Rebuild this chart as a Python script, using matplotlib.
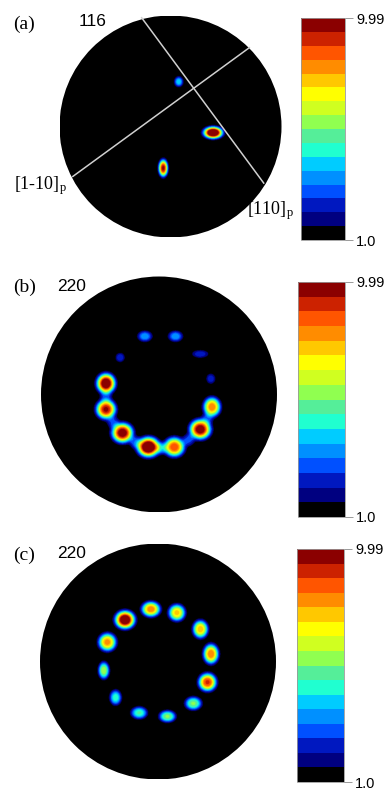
import numpy as np
import matplotlib
matplotlib.use('Agg')
import matplotlib.pyplot as plt
from matplotlib.colors import ListedColormap, BoundaryNorm
from matplotlib.patches import Circle
import matplotlib.cm as mcm

# 16 level colours, bottom (1.0) to top (9.99)
band_colors = ['#000000', '#000080', '#0018c0', '#0050ff', '#0090ff', '#00ccff',
               '#20ffd0', '#55ee99', '#90ff50', '#d0ff20', '#ffff00', '#ffc800',
               '#ff8c00', '#ff5500', '#cc2200', '#8b0000']
vmin, vmax = 1.0, 9.99
tick_labels = ['1.0', '9.99']

# (a) 116 pole figure: spot centres (unit disk), peak intensity, spread
a_x = [0.07, 0.38, -0.07]
a_y = [0.40, -0.06, -0.38]
a_peak = [4.2, 12.0, 9.6]
a_sx = [0.026, 0.055, 0.027]
a_sy = [0.030, 0.034, 0.049]
# projected [110]p and [1-10]p traces
line1_x = [-0.26, 0.84]
line1_y = [0.98, -0.51]
line2_x = [0.71, -0.88]
line2_y = [0.71, -0.45]

# (b) 220 pole figure
b_x = [-0.12, 0.14, -0.33, 0.35, 0.44, -0.45, -0.45, 0.45, -0.31, 0.35, -0.09, 0.13,
       -0.45, -0.39, -0.20, 0.02, 0.25, 0.41]
b_y = [0.49, 0.49, 0.31, 0.34, 0.13, 0.09, -0.13, -0.11, -0.33, -0.30, -0.45, -0.45,
       -0.02, -0.24, -0.41, -0.46, -0.39, -0.21]
b_peak = [3.7, 3.7, 2.6, 2.5, 2.5, 10.8, 9.6, 8.2, 10.2, 10.2, 11.5, 8.8,
          2.4, 2.6, 2.8, 3.0, 2.8, 2.4]
b_sx = [0.040, 0.040, 0.027, 0.048, 0.027, 0.050, 0.053, 0.046, 0.057, 0.057, 0.060, 0.055,
        0.034, 0.034, 0.034, 0.034, 0.034, 0.034]
b_sy = [0.030, 0.030, 0.027, 0.023, 0.030, 0.053, 0.052, 0.052, 0.053, 0.053, 0.053, 0.052,
        0.034, 0.034, 0.034, 0.034, 0.034, 0.034]

# (c) 220 pole figure
c_x = [-0.06, 0.16, -0.28, 0.36, -0.43, 0.45, -0.46, 0.42, -0.36, 0.30, -0.16, 0.08]
c_y = [0.44, 0.41, 0.35, 0.27, 0.16, 0.06, -0.08, -0.18, -0.31, -0.36, -0.44, -0.47]
c_peak = [8.2, 7.4, 11.0, 7.6, 8.0, 8.3, 6.0, 9.0, 4.8, 5.6, 5.0, 5.6]
c_sx = [0.050, 0.045, 0.053, 0.041, 0.048, 0.041, 0.030, 0.048, 0.032, 0.045, 0.044, 0.045]
c_sy = [0.041, 0.045, 0.048, 0.048, 0.048, 0.053, 0.046, 0.048, 0.041, 0.036, 0.033, 0.032]

cmap = ListedColormap(band_colors)
levels = np.linspace(vmin, vmax, len(band_colors) + 1)
norm = BoundaryNorm(levels, cmap.N)

W, H = 392, 789
fig = plt.figure(figsize=(W / 100, H / 100), dpi=100)
plt.rcParams['mathtext.default'] = 'regular'


def box(x0, y0, w, h):
    return [x0 / W, 1 - (y0 + h) / H, w / W, h / H]


def intensity(xs, ys, peaks, sxs, sys_):
    # flat-topped (super-gaussian) spots, like the smoothed ODF recalculation
    g = np.linspace(-1, 1, 600)
    X, Y = np.meshgrid(g, g)
    Z = np.ones_like(X)
    for x, y, p, sx, sy in zip(xs, ys, peaks, sxs, sys_):
        q = (X - x) ** 2 / (2 * sx ** 2) + (Y - y) ** 2 / (2 * sy ** 2)
        Z += (p - 1) * np.exp(-q ** 1.5)
    return np.clip(Z, vmin, vmax - 1e-3)


def pole_figure(rect, Z):
    ax = fig.add_axes(rect)
    im = ax.imshow(Z, origin='lower', extent=[-1, 1, -1, 1], cmap=cmap, norm=norm,
                   interpolation='bilinear')
    disk = Circle((0, 0), 1, transform=ax.transData)
    im.set_clip_path(disk)
    ax.set_xlim(-1, 1)
    ax.set_ylim(-1, 1)
    ax.axis('off')
    return ax


def colorbar(rect):
    cax = fig.add_axes(rect)
    sm = mcm.ScalarMappable(norm=norm, cmap=cmap)
    cb = fig.colorbar(sm, cax=cax, ticks=[vmin, vmax])
    cb.minorticks_off()
    cb.ax.set_yticklabels(tick_labels, family='Liberation Sans')
    cb.outline.set_edgecolor('#999999')
    cb.outline.set_linewidth(0.6)
    cb.ax.tick_params(length=6, width=0.7, color='#999999', labelsize=10.5, pad=2)
    return cb


def label(x, y, s, family, size):
    fig.text(x / W, 1 - y / H, s, family=family, fontsize=size, ha='left', va='center')


# panel (a)
ax_a = pole_figure(box(59.5, 15.5, 222, 222), intensity(a_x, a_y, a_peak, a_sx, a_sy))
ax_a.plot(line1_x, line1_y, color='#d0d0d0', lw=1.1)
ax_a.plot(line2_x, line2_y, color='#d0d0d0', lw=1.1)
colorbar(box(301, 18, 44, 222))
label(13, 24, '(a)', 'Liberation Serif', 14)
label(79, 22, '116', 'Liberation Sans', 12.5)
label(14, 186, r'[1-10]$_\mathregular{p}$', 'Liberation Serif', 13)
label(247, 211, r'[110]$_\mathregular{p}$', 'Liberation Serif', 13)

# panel (b)
pole_figure(box(41, 276.5, 236, 236), intensity(b_x, b_y, b_peak, b_sx, b_sy))
colorbar(box(298, 282, 47, 235))
label(13, 287, '(b)', 'Liberation Serif', 14)
label(57, 286.5, '220', 'Liberation Sans', 12.5)

# panel (c)
pole_figure(box(40, 543.5, 236, 236), intensity(c_x, c_y, c_peak, c_sx, c_sy))
colorbar(box(297, 549, 47, 233))
label(13, 555, '(c)', 'Liberation Serif', 14)
label(57, 553.5, '220', 'Liberation Sans', 12.5)

fig.savefig('out.png', dpi=100)
